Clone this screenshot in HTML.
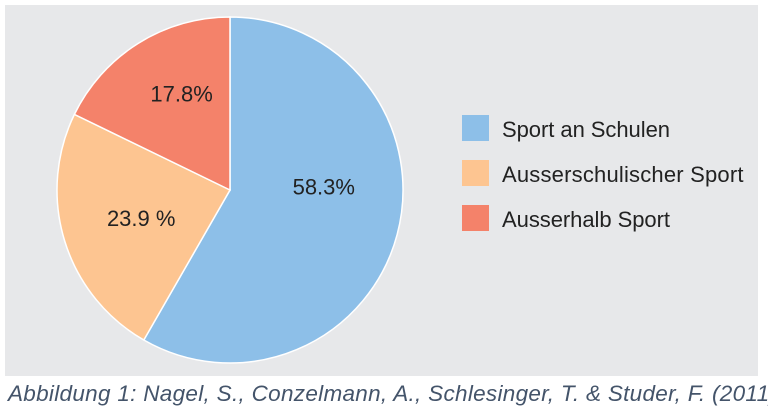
<!DOCTYPE html>
<html><head><meta charset="utf-8"><style>
body{margin:0;width:768px;height:419px;background:#fff;overflow:hidden;font-family:"Liberation Sans",sans-serif}
#panel{position:absolute;left:5px;top:5px;width:753px;height:371px;background:#e7e8ea}
#cap{position:absolute;left:8px;top:381px;font-size:22.5px;font-style:italic;color:#44546a;white-space:nowrap;letter-spacing:0.3px}
</style></head><body>
<div id="panel"></div>
<svg id="chart" width="768" height="419" style="position:absolute;left:0;top:0"></svg>
<div id="cap">Abbildung 1: Nagel, S., Conzelmann, A., Schlesinger, T. &amp; Studer, F. (2011)</div>
<script>
const categories=["Sport an Schulen","Ausserschulischer Sport","Ausserhalb Sport"];
const values=[58.3,23.9,17.8];
const valueLabels=["58.3%","23.9 %","17.8%"];
const colors=["#8dbfe8","#fdc591","#f4826a"];
const svg=document.getElementById('chart');
const NS="http://www.w3.org/2000/svg";
const cx=230,cy=190,R=173;
const labelShiftY=[-28,0,-16];
const total=values.reduce((a,b)=>a+b,0);
function pt(frac,r){const a=frac*2*Math.PI;return [cx+r*Math.sin(a),cy-r*Math.cos(a)];}
let acc=0;
values.forEach((v,i)=>{
  const s=acc/total,e=(acc+v)/total;acc+=v;
  const p0=pt(s,R),p1=pt(e,R);
  const path=document.createElementNS(NS,'path');
  path.setAttribute('d',`M${cx},${cy}L${p0[0]},${p0[1]}A${R},${R} 0 ${e-s>0.5?1:0} 1 ${p1[0]},${p1[1]}Z`);
  path.setAttribute('fill',colors[i]);path.setAttribute('stroke','#fff');path.setAttribute('stroke-width','1.5');
  
  
  svg.appendChild(path);
  const lp=pt((s+e)/2,95);
  const t=document.createElementNS(NS,'text');
  t.setAttribute('x',lp[0]+2);t.setAttribute('y',lp[1]+8+labelShiftY[i]);t.setAttribute('text-anchor','middle');
  t.setAttribute('font-size','22');t.setAttribute('fill','#222');t.textContent=valueLabels[i];
  
  
  svg.appendChild(t);
  const sq=document.createElementNS(NS,'rect');
  sq.setAttribute('x',462);sq.setAttribute('y',115+i*45);sq.setAttribute('width',27);sq.setAttribute('height',26);sq.setAttribute('fill',colors[i]);
  
  
  svg.appendChild(sq);
  const lt=document.createElementNS(NS,'text');
  lt.setAttribute('x',502);lt.setAttribute('y',137+i*45);lt.setAttribute('font-size','22');lt.setAttribute('fill','#222');
  lt.setAttribute('textLength',categories[i].length*10.5);
  lt.textContent=categories[i];
  
  
  svg.appendChild(lt);
});
</script>
</body></html>
